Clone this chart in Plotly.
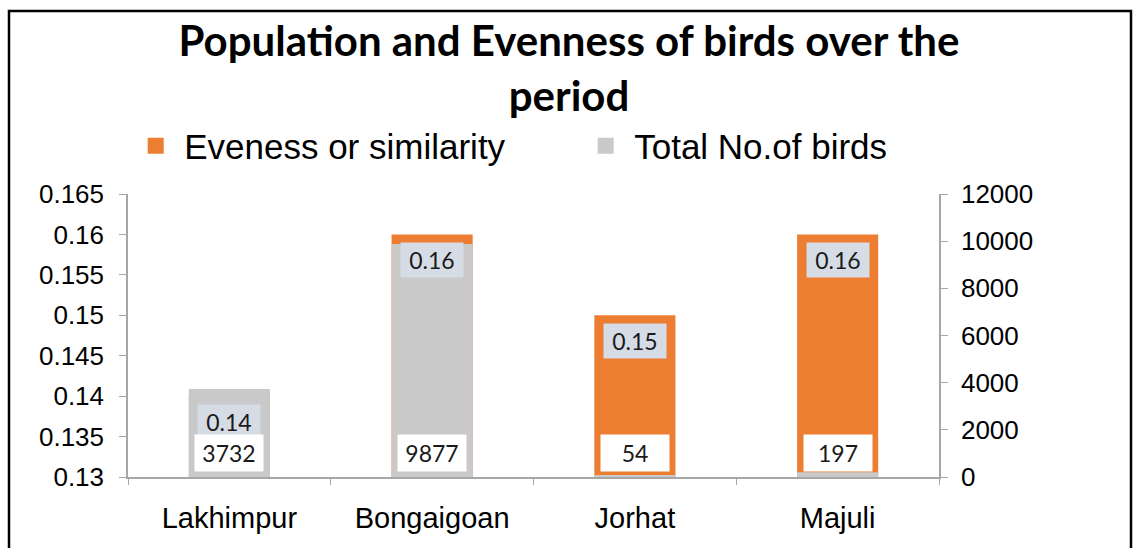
import plotly.graph_objects as go

categories = ["Lakhimpur", "Bongaigoan", "Jorhat", "Majuli"]
evenness = [0.14, 0.16, 0.15, 0.16]
total_birds = [3732, 9877, 54, 197]
evenness_labels = ["0.14", "0.16", "0.15", "0.16"]
birds_labels = ["3732", "9877", "54", "197"]
left_ticks = [0.13, 0.135, 0.14, 0.145, 0.15, 0.155, 0.16, 0.165]
left_ticktext = ["0.13", "0.135", "0.14", "0.145", "0.15", "0.155", "0.16", "0.165"]
right_ticks = [0, 2000, 4000, 6000, 8000, 10000, 12000]
right_ticktext = ["0", "2000", "4000", "6000", "8000", "10000", "12000"]

ORANGE = "#ED7D31"
GRAY = "#C9C9C9"
AXIS = "#A6A6A6"
SANS = "Liberation Sans, Arial"

fig = go.Figure()
fig.add_trace(go.Bar(x=categories, y=evenness, name="Eveness or similarity",
                     marker=dict(color=ORANGE, line=dict(width=0)),
                     width=0.4, yaxis="y", showlegend=False))
fig.add_trace(go.Bar(x=categories, y=total_birds, name="Total No.of birds",
                     marker=dict(color=GRAY, line=dict(width=0)),
                     width=0.4, yaxis="y2", showlegend=False))
# legend entries with larger square keys
fig.add_trace(go.Scatter(x=[None], y=[None], mode="markers", name="Eveness or similarity",
                         marker=dict(symbol="square", size=18, color=ORANGE), yaxis="y"))
fig.add_trace(go.Scatter(x=[None], y=[None], mode="markers", name="Total No.of birds",
                         marker=dict(symbol="square", size=18, color=GRAY), yaxis="y2"))

annotations = []
for c, v, t in zip(categories, evenness, evenness_labels):
    annotations.append(dict(x=c, y=v, xref="x", yref="y", text=t, showarrow=False,
                            yshift=-26, bgcolor="#D6DCE5", width=52, height=24,
                            borderpad=5, font=dict(family="Lato", size=23, color="#1a1a1a")))
for c, t in zip(categories, birds_labels):
    annotations.append(dict(x=c, y=0, xref="x", yref="y2", text=t, showarrow=False,
                            yshift=24, bgcolor="#FFFFFF", width=58, height=26,
                            borderpad=5, font=dict(family="Lato", size=23, color="#1a1a1a")))

fig.update_layout(
    width=1138, height=548,
    margin=dict(l=128, r=199, t=194, b=71, autoexpand=False),
    paper_bgcolor="white", plot_bgcolor="white",
    barmode="overlay",
    title=dict(text="<b>Population and Evenness of birds over the<br>period</b>",
               x=0.5, xanchor="center", y=1 - 56 / 548, yanchor="top",
               font=dict(family="Lato", size=42, color="black")),
    legend=dict(orientation="h", x=-0.001, xanchor="left",
                y=(477 - 146) / 283, yanchor="middle",
                font=dict(family=SANS, size=35, color="black"),
                itemwidth=47, entrywidth=388,
                bgcolor="rgba(0,0,0,0)", traceorder="normal"),
    xaxis=dict(showline=True, linecolor=AXIS, linewidth=1.5, ticks="outside",
               tickson="boundaries", ticklen=6, tickcolor=AXIS, showgrid=False,
               ticklabelstandoff=14, tickangle=0,
               tickfont=dict(family=SANS, size=29, color="black")),
    yaxis=dict(range=[0.13, 0.165], tickvals=left_ticks, ticktext=left_ticktext,
               showline=True, linecolor=AXIS, linewidth=1.5, ticks="outside",
               ticklen=7, tickcolor=AXIS, showgrid=False, zeroline=False,
               ticklabelstandoff=10,
               tickfont=dict(family=SANS, size=26, color="black")),
    yaxis2=dict(range=[0, 12000], tickvals=right_ticks, ticktext=right_ticktext,
                overlaying="y", side="right",
                showline=True, linecolor=AXIS, linewidth=1.5, ticks="outside",
                ticklen=7, tickcolor=AXIS, showgrid=False, zeroline=False,
                ticklabelstandoff=8,
                tickfont=dict(family=SANS, size=26, color="black")),
    annotations=annotations,
    shapes=[dict(type="rect", xref="paper", yref="paper",
                 x0=(9 - 128) / 811, x1=(1131 - 128) / 811,
                 y0=(477 - 600) / 283, y1=(477 - 11) / 283,
                 line=dict(color="black", width=2.5), fillcolor="rgba(0,0,0,0)",
                 layer="below")],
    showlegend=True,
)

fig.write_html("out.html", config={"displayModeBar": False},
               post_script="document.body.style.margin='0';")
